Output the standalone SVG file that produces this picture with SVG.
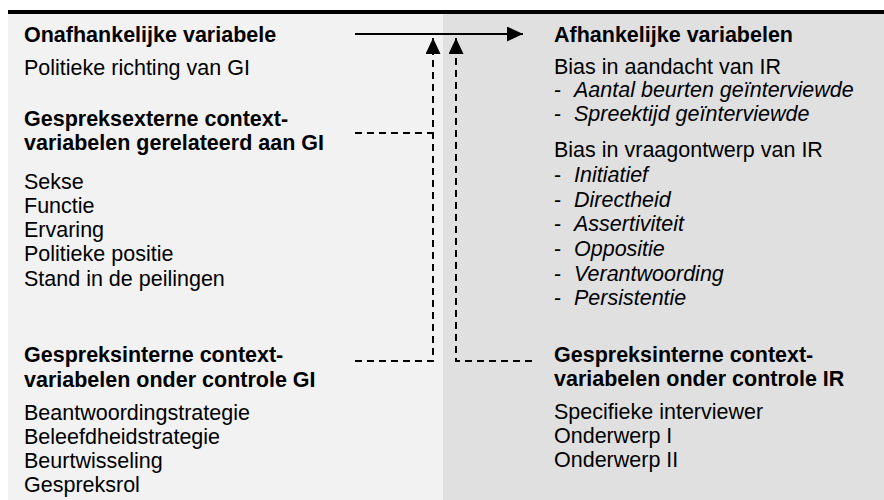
<svg xmlns="http://www.w3.org/2000/svg" width="884" height="500" viewBox="0 0 884 500">
  <style>
    text { font-family: "Liberation Sans", Arial, sans-serif; font-size: 21.5px; fill: #000; }
    .b { font-weight: bold; }
    .i { font-style: italic; }
    .dash { fill: none; stroke: #000; stroke-width: 2; stroke-dasharray: 7 5; }
    .solid { fill: none; stroke: #000; stroke-width: 2; }
  </style>
  <defs>
    <marker id="ah" viewBox="0 0 16 15" refX="16" refY="7.5" markerWidth="16" markerHeight="15" markerUnits="userSpaceOnUse" orient="auto">
      <path d="M0,0 L16,7.5 L0,15 Z" fill="#000"/>
    </marker>
  </defs>
  <rect x="0" y="0" width="884" height="500" fill="#ffffff"/>
  <rect x="8" y="14" width="435" height="486" fill="#f2f2f2"/>
  <rect x="443" y="14" width="441" height="486" fill="#e0e0e0"/>
  <rect x="8" y="10" width="876" height="4" fill="#000"/>

  <g id="onafhankelijk">
    <text class="b" x="24" y="42">Onafhankelijke variabele</text>
    <text x="24" y="75">Politieke richting van GI</text>
  </g>
  <g id="gespreksextern">
    <text class="b" x="24" y="126">Gespreksexterne context-</text>
    <text class="b" x="24" y="150">variabelen gerelateerd aan GI</text>
    <text x="24" y="189">Sekse</text>
    <text x="24" y="213">Functie</text>
    <text x="24" y="237">Ervaring</text>
    <text x="24" y="261">Politieke positie</text>
    <text x="24" y="286">Stand in de peilingen</text>
  </g>
  <g id="gespreksintern-gi">
    <text class="b" x="24" y="362">Gespreksinterne context-</text>
    <text class="b" x="24" y="387">variabelen onder controle GI</text>
    <text x="24" y="420">Beantwoordingstrategie</text>
    <text x="24" y="444">Beleefdheidstrategie</text>
    <text x="24" y="468">Beurtwisseling</text>
    <text x="24" y="492">Gespreksrol</text>
  </g>
  <g id="afhankelijk">
    <text class="b" x="554" y="42">Afhankelijke variabelen</text>
    <text x="554" y="74">Bias in aandacht van IR</text>
    <text x="554" y="97">-</text><text class="i" x="574" y="97">Aantal beurten geïnterviewde</text>
    <text x="554" y="121">-</text><text class="i" x="574" y="121">Spreektijd geïnterviewde</text>
    <text x="554" y="157">Bias in vraagontwerp van IR</text>
    <text x="554" y="182">-</text><text class="i" x="574" y="182">Initiatief</text>
    <text x="554" y="207">-</text><text class="i" x="574" y="207">Directheid</text>
    <text x="554" y="231">-</text><text class="i" x="574" y="231">Assertiviteit</text>
    <text x="554" y="256">-</text><text class="i" x="574" y="256">Oppositie</text>
    <text x="554" y="281">-</text><text class="i" x="574" y="281">Verantwoording</text>
    <text x="554" y="305">-</text><text class="i" x="574" y="305">Persistentie</text>
  </g>
  <g id="gespreksintern-ir">
    <text class="b" x="554" y="362">Gespreksinterne context-</text>
    <text class="b" x="554" y="386">variabelen onder controle IR</text>
    <text x="554" y="419">Specifieke interviewer</text>
    <text x="554" y="443">Onderwerp I</text>
    <text x="554" y="467">Onderwerp II</text>
  </g>

  <g id="connectors">
    <path class="solid" d="M355,34 L523,34" marker-end="url(#ah)"/>
    <path class="dash" d="M355,361 L433,361 L433,38" marker-end="url(#ah)"/>
    <path class="dash" d="M355,133 L433,133"/>
    <path class="dash" d="M532,361 L456,361 L456,38" marker-end="url(#ah)"/>
  </g>
</svg>
